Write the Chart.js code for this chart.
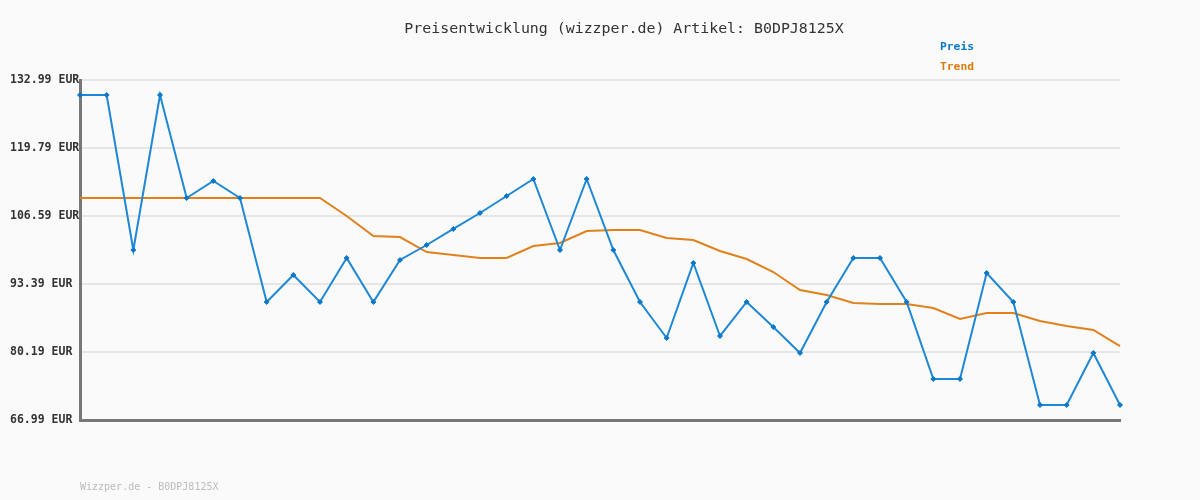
<!DOCTYPE html>
<html>
<head>
<meta charset="utf-8">
<script src="https://cdn.jsdelivr.net/npm/chart.js@4"></script>
<style>
  html, body { margin: 0; padding: 0; background: #fafafa; }
  #wrap { position: relative; width: 1200px; height: 500px; }
  #title { position: absolute; left: 24px; top: 19px; width: 1200px; text-align: center;
           font: 14.9px "DejaVu Sans Mono", monospace; color: #333; }
  #legend { position: absolute; left: 940px; top: 39px; font: bold 11.3px "DejaVu Sans Mono", monospace; }
  #legend div { height: 20px; line-height: 16px; }
  #footer { position: absolute; left: 80px; top: 481px; font: 10px "DejaVu Sans Mono", monospace; color: #bbb; }
</style>
</head>
<body>
<div id="wrap">
  <canvas id="chart" width="1200" height="500"></canvas>
  <div id="title">Preisentwicklung (wizzper.de) Artikel: B0DPJ8125X</div>
  <div id="legend"></div>
  <div id="footer">Wizzper.de - B0DPJ8125X</div>
</div>
<script>
'use strict';

// Werte
var labels = [];
for (var i = 1; i <= 40; i++) labels.push(String(i));

var preis = [130.08, 130.08, 99.99, 130.08, 110.08, 113.38, 110.08, 89.90, 95.14, 89.90,
             98.44, 89.90, 98.05, 100.96, 104.07, 107.17, 110.47, 113.77, 99.99, 113.77,
             99.99, 89.90, 82.91, 97.47, 83.30, 89.90, 85.04, 80.00, 89.90, 98.44,
             98.44, 89.90, 74.95, 74.95, 95.53, 89.90, 69.90, 69.90, 80.00, 69.90];

var trend = [110.08, 110.08, 110.08, 110.08, 110.08, 110.08, 110.08, 110.08, 110.08, 110.08,
             106.59, 102.71, 102.51, 99.60, 99.02, 98.44, 98.44, 100.77, 101.35, 103.68,
             103.87, 103.87, 102.32, 101.93, 99.80, 98.24, 95.72, 92.23, 91.26, 89.70,
             89.51, 89.51, 88.73, 86.60, 87.76, 87.76, 86.21, 85.24, 84.46, 81.35];

var yMin = 66.99, yMax = 132.99, yStep = 13.2;

var series = [
  { label: 'Preis', data: preis, color: '#1f88d4', text: '#0a78c8' },
  { label: 'Trend', data: trend, color: '#e2811c', text: '#dd7a0c' }
];

// Legende
var leg = document.getElementById('legend');
series.forEach(function (s) {
  var d = document.createElement('div');
  d.textContent = s.label;
  d.style.color = s.text;
  leg.appendChild(d);
});

var ctx = document.getElementById('chart').getContext('2d');
new Chart(ctx, {
  type: 'line',
  data: {
    labels: labels,
    datasets: [
      {
        label: series[0].label,
        data: series[0].data,
        borderColor: series[0].color,
        borderWidth: 2,
        pointStyle: 'rectRot',
        pointRadius: 2.5,
        pointBackgroundColor: '#0a78c8',
        pointBorderColor: '#0a78c8',
        pointBorderWidth: 1,
        tension: 0,
        clip: false,
        order: 1
      },
      {
        label: series[1].label,
        data: series[1].data,
        borderColor: series[1].color,
        borderWidth: 2,
        pointRadius: 0,
        tension: 0,
        clip: false,
        order: 2
      }
    ]
  },
  options: {
    responsive: false,
    animation: false,
    layout: { padding: { left: 10, right: 80, top: 80, bottom: 80 } },
    plugins: { legend: { display: false }, title: { display: false }, tooltip: { enabled: false } },
    scales: {
      x: {
        offset: false,
        ticks: { display: false },
        grid: { display: false, drawTicks: false },
        border: { display: true, color: '#777', width: 3 },
        afterFit: function (scale) { scale.height = 0; }
      },
      y: {
        min: yMin,
        max: yMax,
        afterBuildTicks: function (scale) {
          var t = [];
          for (var v = yMin; v <= yMax + 0.001; v += yStep) t.push({ value: v });
          scale.ticks = t;
        },
        ticks: {
          crossAlign: 'far',
          color: '#333',
          font: { family: 'DejaVu Sans Mono', size: 11.5, weight: 'bold' },
          callback: function (v) { return v.toFixed(2) + ' EUR'; }
        },
        grid: { color: '#e6e6e6', lineWidth: 2, drawTicks: false },
        border: { display: true, color: '#777', width: 3 },
        afterFit: function (scale) { scale.width = 70; }
      }
    }
  }
});
</script>
</body>
</html>
